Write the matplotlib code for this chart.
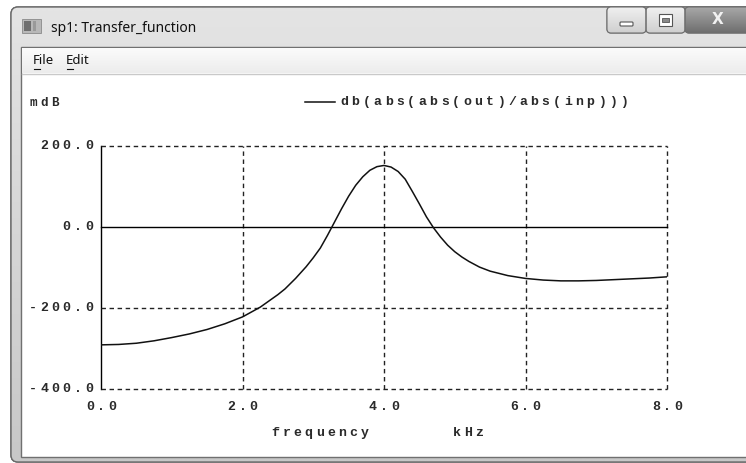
import numpy as np
import matplotlib
matplotlib.use("Agg")
import matplotlib.pyplot as plt
from matplotlib import transforms as mtrans
from matplotlib.patches import Rectangle, FancyBboxPatch

W, H, DPI = 746, 463, 100

# curve: frequency (kHz) vs magnitude (mdB)
freq_khz = [0.0, 0.25, 0.5, 0.75, 1.0, 1.25, 1.5, 1.75, 2.0, 2.25, 2.5, 2.6,
            2.75, 2.9, 3.0, 3.1, 3.2, 3.3, 3.4, 3.5, 3.6, 3.7, 3.8, 3.9,
            4.0, 4.1, 4.2, 4.3, 4.4, 4.5, 4.6, 4.7, 4.8, 4.9, 5.0, 5.1,
            5.2, 5.35, 5.5, 5.75, 6.0, 6.25, 6.5, 6.75, 7.0, 7.25, 7.5,
            7.75, 8.0]
mag_mdb = [-291, -290, -287, -281, -273, -264, -253, -239, -222, -198, -167, -153,
           -127, -98, -76, -52, -21, 12, 45, 76, 103, 124, 140, 149,
           152, 148, 137, 118, 88, 57, 25, -2, -25, -45, -61, -74,
           -85, -99, -109, -120, -127, -131, -133, -133, -132, -130, -128,
           -126, -123]

x_ticks = [0, 2, 4, 6, 8]
x_tick_labels = ["0.0", "2.0", "4.0", "6.0", "8.0"]
y_ticks = [200, 0, -200, -400]
y_tick_labels = ["200.0", "0.0", "-200.0", "-400.0"]
legend_label = "db(abs(abs(out)/abs(inp)))"
y_unit = "mdB"
x_name, x_unit = "frequency", "kHz"
window_title = "sp1: Transfer_function"
menu_items = ["File", "Edit"]

MONO = "Liberation Mono"
PITCH = 11.2

fig = plt.figure(figsize=(W / DPI, H / DPI), dpi=DPI)
fig.patch.set_facecolor("white")

# background axes in pixel units (y down) for the window chrome
bg = fig.add_axes([0, 0, 1, 1])
bg.set_xlim(0, W)
bg.set_ylim(H, 0)
bg.axis("off")


def gradient(ax, x0, x1, y0, y1, c_top, c_bot, clip=None, z=1):
    g = np.linspace(0, 1, 64)[:, None]
    top = np.array(matplotlib.colors.to_rgb(c_top))
    bot = np.array(matplotlib.colors.to_rgb(c_bot))
    img = top[None, None, :] * (1 - g[..., None]) + bot[None, None, :] * g[..., None]
    img = np.repeat(img, 2, axis=1)
    im = ax.imshow(img, extent=(x0, x1, y1, y0), aspect="auto", zorder=z,
                   interpolation="bilinear")
    if clip is not None:
        im.set_clip_path(clip)
    return im


def mono(ax, x, y, s, trans, ha="center", dx=0, dy=0, size=9.5):
    # draw char by char: the original font is spaced wider than any mono font
    n = len(s)
    if ha == "center":
        start = -(n - 1) / 2 * PITCH
    elif ha == "right":
        start = -(n - 1) * PITCH
    else:
        start = 0
    for i, ch in enumerate(s):
        t = mtrans.offset_copy(trans, fig=fig, x=start + i * PITCH + dx,
                               y=dy, units="dots")
        ax.text(x, y, ch, transform=t, ha="center", va="center",
                fontfamily=MONO, fontsize=size, fontweight="bold",
                color="#2a2a2a", zorder=10)


# window frame
frame = FancyBboxPatch((11, 7), 800, 455, boxstyle="round,pad=0,rounding_size=7",
                       facecolor="#d2d2d2", edgecolor="#6a6a6a", lw=1.0, zorder=1)
bg.add_patch(frame)
gradient(bg, 11, 811, 7, 462, "#e4e4e4", "#c8c8c8", clip=frame, z=1.5)
bg.add_patch(FancyBboxPatch((11, 7), 800, 455, boxstyle="round,pad=0,rounding_size=7",
                            facecolor="none", edgecolor="#6a6a6a", lw=1.0, zorder=2))

# icon + title
bg.add_patch(Rectangle((22, 19), 19, 14, facecolor="#b8b8b8", edgecolor="#8a8a8a",
                       lw=0.6, zorder=3))
bg.add_patch(Rectangle((24, 21), 7, 10, facecolor="#6e6e6e", edgecolor="none", zorder=3))
bg.add_patch(Rectangle((33, 21), 3, 10, facecolor="#9a9a9a", edgecolor="none", zorder=3))
bg.text(51, 28, window_title, fontfamily="Noto Sans", fontsize=10, color="#111111",
        va="center", ha="left", zorder=3)

# caption buttons
for x0, x1, c1, c2 in [(607, 646, "#f0f0f0", "#cfcfcf"), (646, 685, "#f0f0f0", "#cfcfcf"),
                       (685, 760, "#a8a8a8", "#6e6e6e")]:
    b = FancyBboxPatch((x0, 7), x1 - x0, 26, boxstyle="round,pad=0,rounding_size=4",
                       facecolor=c2, edgecolor="#6f6f6f", lw=0.8, zorder=3)
    bg.add_patch(b)
    gradient(bg, x0, x1, 7, 33, c1, c2, clip=b, z=3.2)
    bg.add_patch(FancyBboxPatch((x0, 7), x1 - x0, 26, boxstyle="round,pad=0,rounding_size=4",
                                facecolor="none", edgecolor="#6f6f6f", lw=0.8, zorder=3.4))
bg.add_patch(FancyBboxPatch((620, 22), 13, 4, boxstyle="round,pad=0,rounding_size=1",
                            facecolor="white", edgecolor="#555555", lw=0.8, zorder=4))
bg.add_patch(Rectangle((659, 14), 13, 12, facecolor="white", edgecolor="#555555",
                       lw=0.8, zorder=4))
bg.add_patch(Rectangle((662, 18), 7, 4, facecolor="#8a8a8a", edgecolor="#555555",
                       lw=0.6, zorder=4))
bg.text(718, 20, "X", fontfamily="DejaVu Sans", fontweight="bold", fontsize=11,
        color="#f2f2f2", ha="center", va="center", zorder=4)

# client area + menu bar
bg.add_patch(Rectangle((21, 47), 800, 410, facecolor="white", edgecolor="#707070",
                       lw=1.0, zorder=5))
gradient(bg, 22, 800, 48, 73, "#fbfbfb", "#ececec", z=5.5)
bg.plot([22, 800], [73.5, 73.5], color="#c9c9c9", lw=1.0, zorder=6)
mx = 33
for item in menu_items:
    bg.text(mx, 61, item, fontfamily="Noto Sans", fontsize=9.5, color="#111111",
            ha="left", va="center", zorder=7)
    bg.plot([mx + 0.5, mx + 6.5], [68.5, 68.5], color="#111111", lw=0.8, zorder=7)
    mx += 33

# plot axes
ax = fig.add_axes([101 / W, 1 - 389 / H, 566 / W, 243 / H], zorder=10)
ax.set_facecolor("none")
ax.set_xlim(0, 8)
ax.set_ylim(-400, 200)
ax.set_xticks([])
ax.set_yticks([])
for s in ax.spines.values():
    s.set_visible(False)

dash = (0, (3.2, 2.6))
ax.axvline(0, color="black", lw=1.0, clip_on=False)
for xv in x_ticks[1:]:
    ax.axvline(xv, color="#222222", lw=1.0, linestyle=dash, clip_on=False)
for yv in y_ticks:
    if yv == 0:
        ax.axhline(yv, color="black", lw=1.0, clip_on=False)
    else:
        ax.axhline(yv, color="#222222", lw=1.0, linestyle=dash, clip_on=False)

ax.plot(freq_khz, mag_mdb, color="#111111", lw=1.1, solid_joinstyle="round")

# tick labels, spaced like the original bitmap font
ytr = mtrans.blended_transform_factory(ax.transAxes, ax.transData)
for yv, lab in zip(y_ticks, y_tick_labels):
    mono(ax, 0, yv, lab, ytr, ha="right", dx=-12)
xtr = mtrans.blended_transform_factory(ax.transData, ax.transAxes)
for xv, lab in zip(x_ticks, x_tick_labels):
    mono(ax, xv, 0, lab, xtr, ha="center", dy=-18)

mono(bg, 44, 103, y_unit, bg.transData, size=9)
mono(bg, 320, 433, x_name, bg.transData)
mono(bg, 468, 433, x_unit, bg.transData)

# legend
bg.plot([305, 335], [102, 102], color="#111111", lw=1.1, zorder=8)
mono(bg, 344, 102, legend_label, bg.transData, ha="left")

fig.savefig("out.png", dpi=DPI)
